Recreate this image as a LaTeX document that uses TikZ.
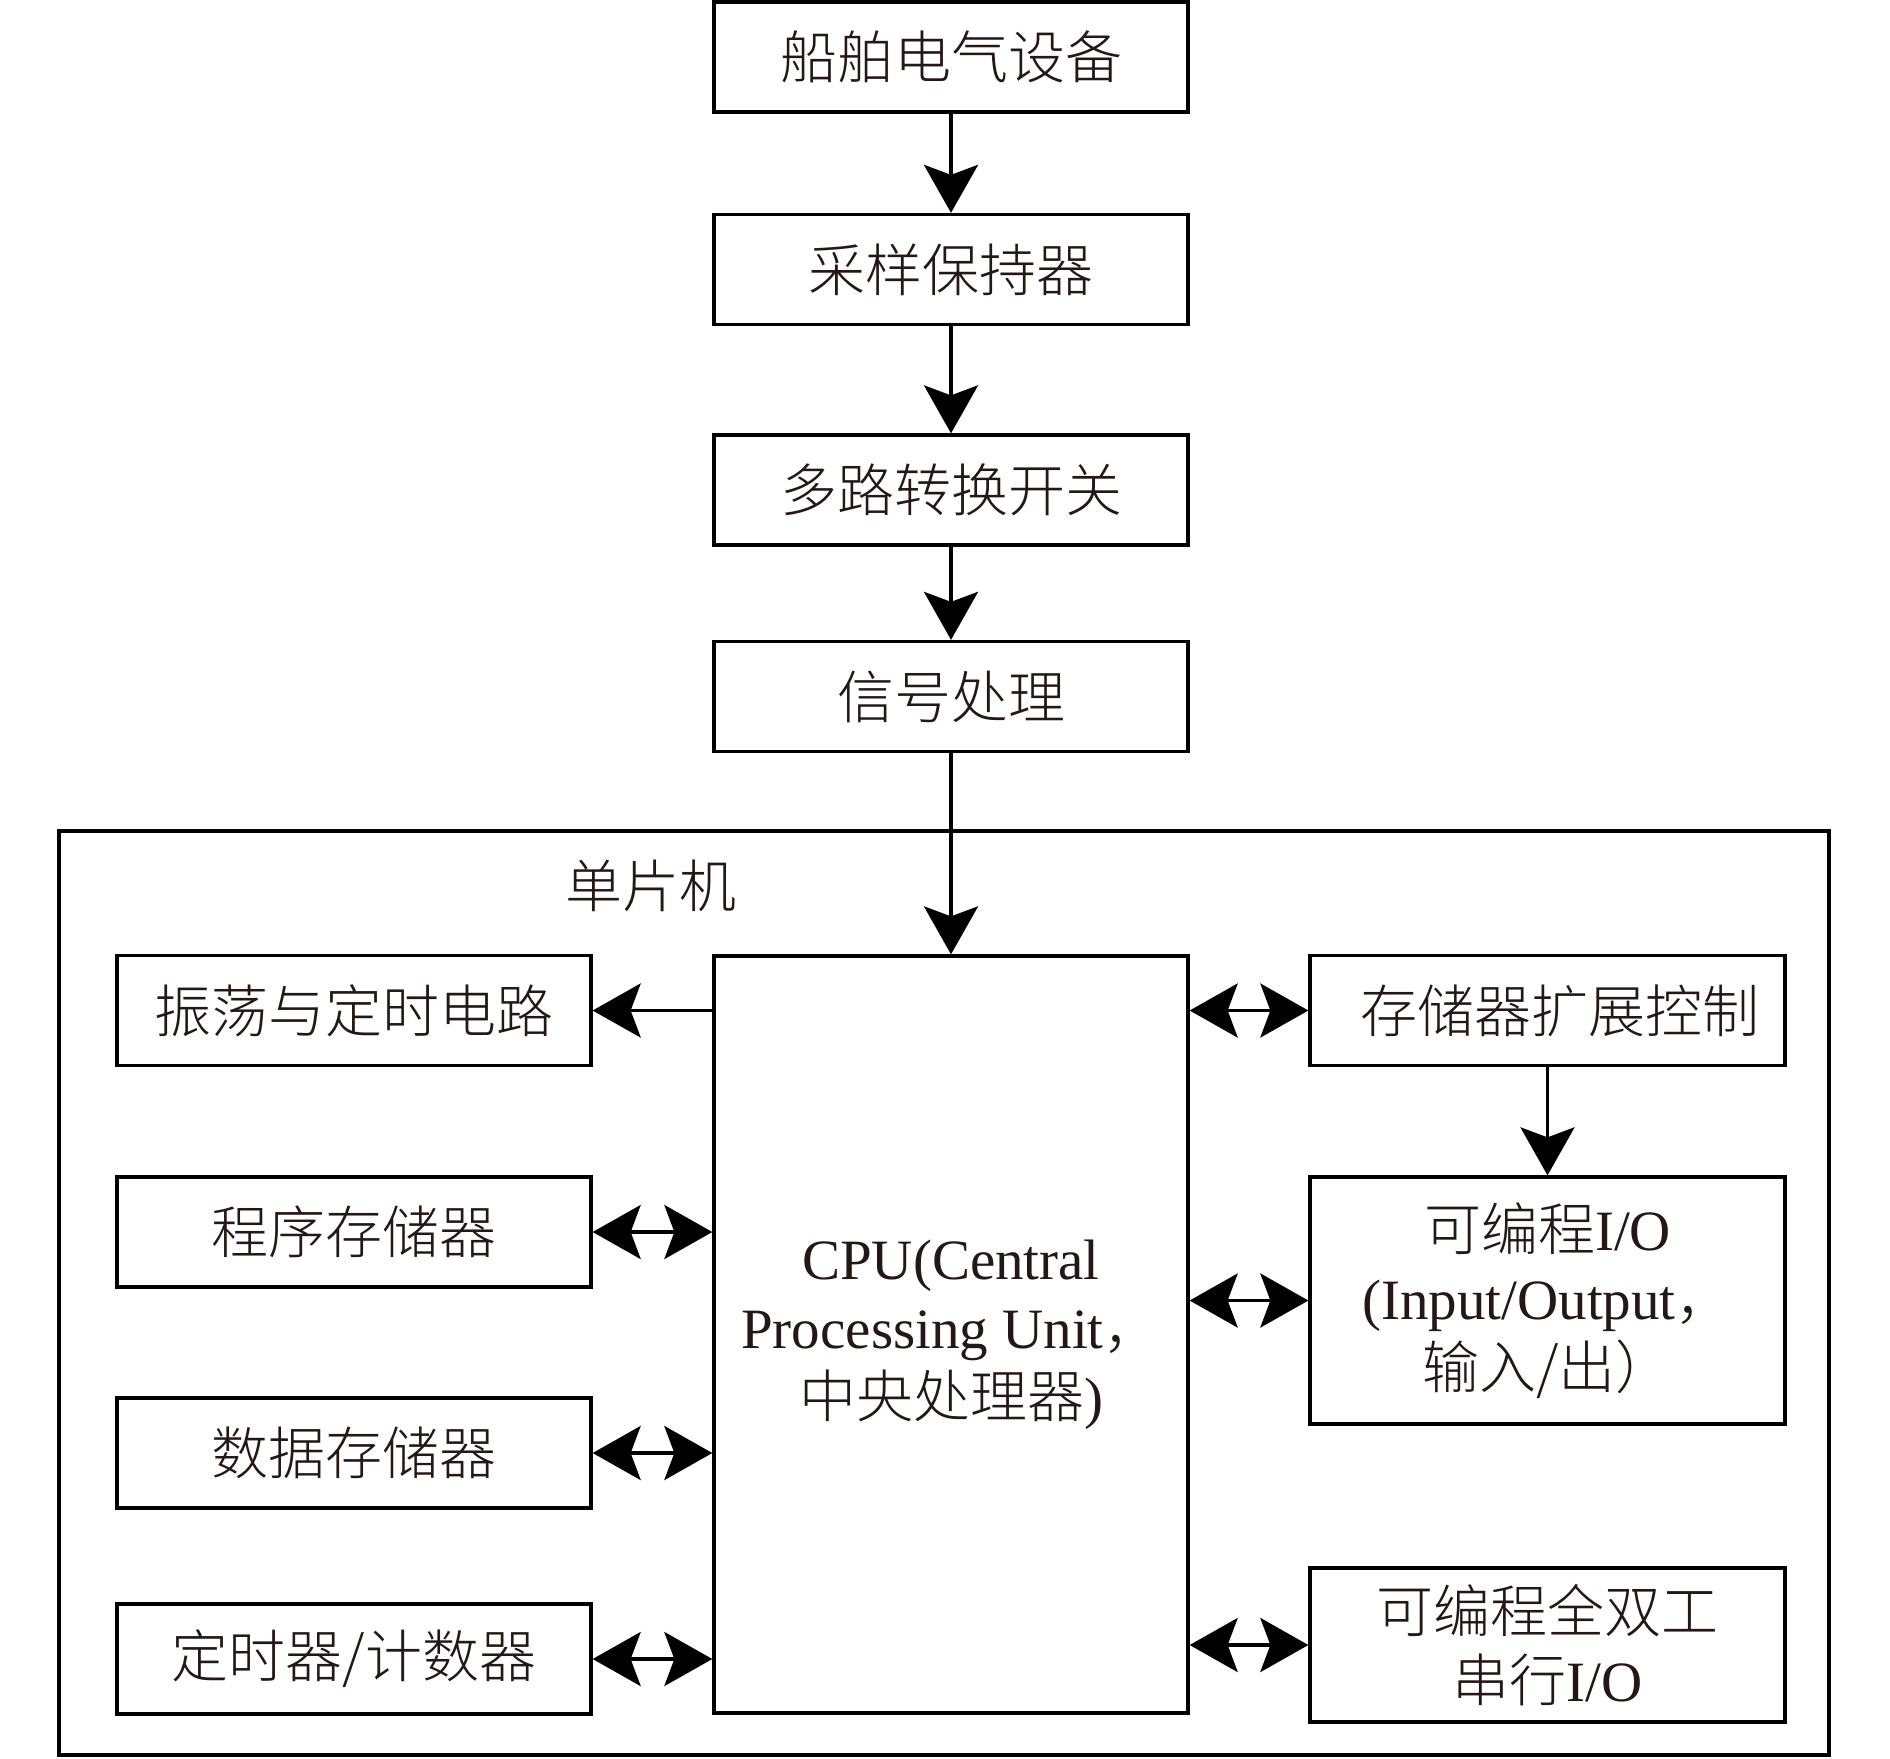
\documentclass[tikz,border=0pt]{standalone}
\usepackage{fontspec}
\setmainfont{Liberation Serif}
\newfontfamily\cjk{Noto Sans CJK SC Light}
\usetikzlibrary{arrows.meta}
\definecolor{txt}{HTML}{231815}
\begin{document}
\begin{tikzpicture}[x=0.5pt,y=-0.5pt,
  box/.style={draw=black, line width=1.65pt, minimum width=237pt, minimum height=55pt,
    inner sep=0pt, align=center, text=txt,
    font=\fontsize{28.5pt}{34.5pt}\selectfont},
  lbl/.style={inner sep=0pt, text=txt, font=\fontsize{28.5pt}{34.5pt}\selectfont},
  tipA/.tip={Stealth[length=24pt,width=27pt,inset=5pt]},
  arr/.style={line width=1.8pt, -tipA},
  darr/.style={line width=1.8pt, tipA-tipA},
]
\useasboundingbox (0,0) rectangle (1890,1758);
\fill[white] (0,0) rectangle (1890,1758);

% top chain
\node[box] (b1) at (951,57)    {\cjk 船舶电气设备};
\node[box] (b2) at (951,269.5) {\cjk 采样保持器};
\node[box] (b3) at (951,490)   {\cjk 多路转换开关};
\node[box] (b4) at (951,696.5) {\cjk 信号处理};

% microcontroller frame
\draw[line width=1.65pt] (59,831) rectangle (1829,1755);
\node[lbl] (mcu) at (651,886) {\cjk 单片机};

% CPU
\node[box, minimum height=378.5pt] (cpu) at (951,1334.5)
  {CPU(Central\\Processing Unit{\cjk ，}\\{\cjk 中央处理器})};

% left column
\node[box] (l1) at (354,1010.5) {\cjk 振荡与定时电路};
\node[box] (l2) at (354,1232)   {\cjk 程序存储器};
\node[box] (l3) at (354,1453)   {\cjk 数据存储器};
\node[box] (l4) at (354,1659)   {\cjk 定时器/计数器};

% right column
\node[box, minimum width=237.5pt] (r1) at (1547.5,1010.5) {\hspace{12pt}\cjk 存储器扩展控制};
\node[box, minimum width=237.5pt, minimum height=123.5pt] (r2) at (1547.5,1300.5)
  {{\cjk 可编程}I/O\\(Input/Output{\cjk ，}\\{\cjk 输入/出）}};
\node[box, minimum width=237.5pt, minimum height=77pt] (r3) at (1547.5,1645)
  {{\cjk 可编程全双工}\\{\cjk 串行}I/O};

% connectors
\draw[arr] (b1.south) -- (b2.north);
\draw[arr] (b2.south) -- (b3.north);
\draw[arr] (b3.south) -- (b4.north);
\draw[arr] (b4.south) -- (cpu.north);

\draw[arr] (cpu.west |- l1) -- (l1.east);
\draw[darr] (l2.east) -- (cpu.west |- l2);
\draw[darr] (l3.east) -- (cpu.west |- l3);
\draw[darr] (l4.east) -- (cpu.west |- l4);

\draw[darr] (cpu.east |- r1) -- (r1.west);
\draw[darr] (cpu.east |- r2) -- (r2.west);
\draw[darr] (cpu.east |- r3) -- (r3.west);
\draw[arr] (r1.south) -- (r2.north);
\end{tikzpicture}
\end{document}
